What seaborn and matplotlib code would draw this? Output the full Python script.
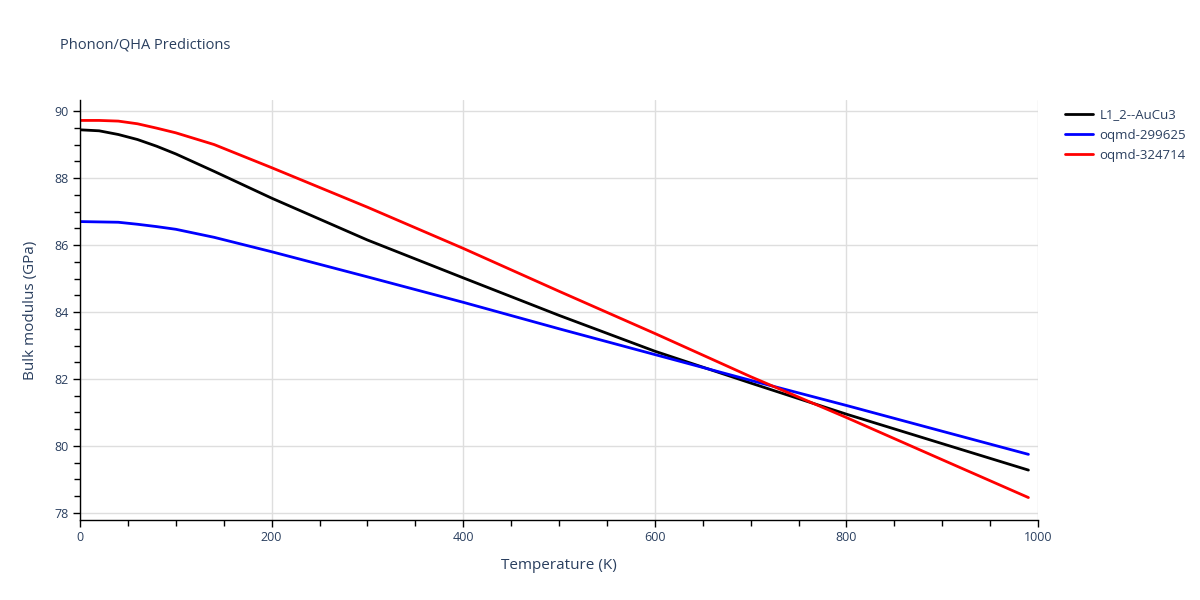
import matplotlib
matplotlib.use("Agg")
import matplotlib.pyplot as plt
import seaborn as sns
import pandas as pd
from matplotlib.ticker import MultipleLocator
from matplotlib.lines import Line2D

temps = [0, 20, 40, 60, 80, 100, 140, 200, 300, 400, 500, 600, 700, 800, 900, 990]
series_names = ["L1_2--AuCu3", "oqmd-299625", "oqmd-324714"]
auCu3 = [89.44, 89.41, 89.30, 89.15, 88.95, 88.72, 88.20, 87.40, 86.15, 85.02,
         83.90, 82.83, 81.88, 80.95, 80.07, 79.28]
oqmd_299625 = [86.70, 86.69, 86.68, 86.62, 86.55, 86.47, 86.23, 85.80, 85.05, 84.29,
               83.50, 82.73, 81.96, 81.21, 80.44, 79.75]
oqmd_324714 = [89.72, 89.72, 89.70, 89.62, 89.49, 89.35, 89.00, 88.31, 87.13, 85.90,
               84.62, 83.36, 82.07, 80.85, 79.59, 78.46]
colors = ["#000000", "#0000ff", "#ff0000"]

frames = []
for name, vals in zip(series_names, [auCu3, oqmd_299625, oqmd_324714]):
    frames.append(pd.DataFrame({"Temperature": temps, "Bulk": vals, "series": name}))
df = pd.concat(frames, ignore_index=True)

sns.set_style("white")
plt.rcParams["font.family"] = ["Open Sans", "DejaVu Sans"]
text_color = "#2a3f5f"

fig = plt.figure(figsize=(12, 6), dpi=100)
ax = fig.add_axes([80 / 1200, 80 / 600, (1038 - 80) / 1200, 420 / 600])

sns.lineplot(data=df, x="Temperature", y="Bulk", hue="series",
             palette=dict(zip(series_names, colors)), linewidth=2, ax=ax,
             legend=False, estimator=None, sort=False)

ax.set_xlim(0, 1000)
ax.set_ylim(77.79, 90.33)
ax.xaxis.set_major_locator(MultipleLocator(200))
ax.xaxis.set_minor_locator(MultipleLocator(50))
ax.yaxis.set_major_locator(MultipleLocator(2))
ax.yaxis.set_minor_locator(MultipleLocator(0.5))
ax.grid(True, which="major", color="#dedede", linewidth=1)
ax.set_axisbelow(True)
for s in ["top", "right"]:
    ax.spines[s].set_visible(False)
for s in ["left", "bottom"]:
    ax.spines[s].set_color("black")
    ax.spines[s].set_linewidth(1)
ax.tick_params(which="both", direction="out", color="black", left=True, bottom=True)
ax.tick_params(which="major", length=5, width=1, labelsize=9, labelcolor=text_color, pad=3)
ax.tick_params(which="minor", length=4, width=1)

ax.set_xlabel("Temperature (K)", fontsize=11, color=text_color, labelpad=10)
ax.set_ylabel("Bulk modulus (GPa)", fontsize=11, color=text_color, labelpad=12)

fig.text(60 / 1200, 1 - 45 / 600, "Phonon/QHA Predictions", fontsize=10.5,
         color=text_color, va="center", ha="left")

handles = [Line2D([0], [0], color=c, linewidth=2) for c in colors]
leg = fig.legend(handles, series_names, loc="upper left",
                 bbox_to_anchor=(1060 / 1200, 1 - 103 / 600), frameon=False,
                 fontsize=9.5, handlelength=2.1, labelspacing=0.55,
                 borderaxespad=0, handletextpad=0.5)
for t in leg.get_texts():
    t.set_color(text_color)

fig.savefig("out.png", dpi=100)
